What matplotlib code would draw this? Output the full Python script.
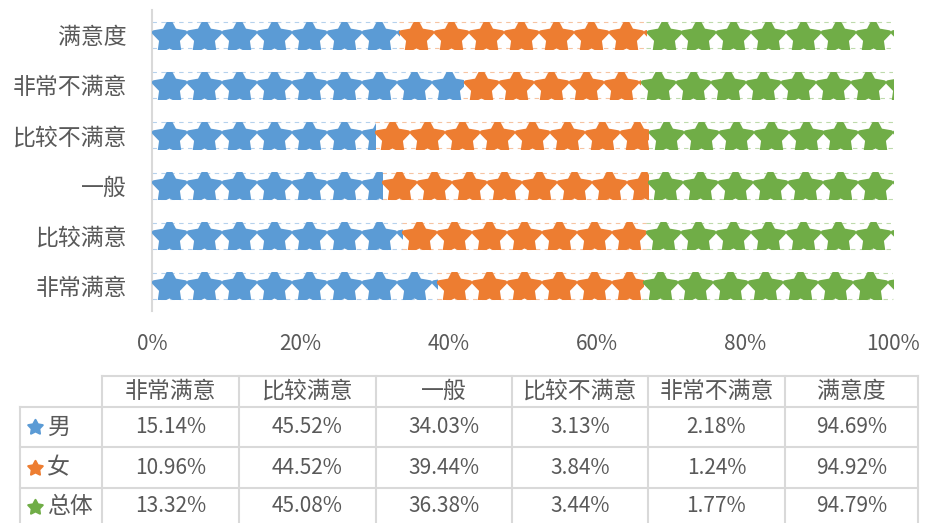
import matplotlib.pyplot as plt
import numpy as np
from matplotlib.path import Path
from matplotlib.lines import Line2D

plt.rcParams['font.family'] = ['Noto Sans CJK SC', 'DejaVu Sans']

# data
categories = ['非常满意', '比较满意', '一般', '比较不满意', '非常不满意', '满意度']
groups = ['男', '女', '总体']
male = [15.14, 45.52, 34.03, 3.13, 2.18, 94.69]
female = [10.96, 44.52, 39.44, 3.84, 1.24, 94.92]
total = [13.32, 45.08, 36.38, 3.44, 1.77, 94.79]
colors = ['#5B9BD5', '#ED7D31', '#70AD47']
grey = '#595959'

W, H = 925, 523
fig = plt.figure(figsize=(W / 100, H / 100), dpi=100)

# axes placement in pixels (left, top, right, bottom)
ax = fig.add_axes([152 / W, (H - 311) / H, (893 - 152) / W, (311 - 10) / H])

vals = np.array([male, female, total])
share = vals / vals.sum(axis=0)
ypos = np.arange(len(categories))
star = Path.unit_regular_star(5, 0.52)
step = 0.0472  # star tile width in axis units
bar_h = 0.54

left = np.zeros(len(categories))
for k in range(3):
    bars = ax.barh(ypos, share[k], left=left, height=bar_h, color='none', edgecolor='none')
    for i, p in enumerate(bars.patches):
        x0 = left[i]
        n = int(np.ceil(share[k][i] / step))
        xs = x0 + step * (np.arange(n) + 0.5)
        sc = ax.scatter(xs, np.full(n, ypos[i] - 0.03), marker=star, s=23.5 ** 2,
                        color=colors[k], edgecolors=colors[k], linewidths=3.2, zorder=3)
        sc.set_joinstyle('round')
        sc.set_clip_path(p)
        for yy in (ypos[i] - bar_h / 2 + 0.01, ypos[i] + bar_h / 2 - 0.01):
            ax.plot([x0, x0 + share[k][i]], [yy, yy], color=colors[k], lw=0.8,
                    dashes=(4, 4), alpha=0.45, zorder=2)
    left += share[k]

ax.set_xlim(0, 1)
ax.set_ylim(-0.5, len(categories) - 0.5)
ax.set_yticks(ypos)
ax.set_yticklabels(categories)
ax.set_xticks(np.linspace(0, 1, 6))
ax.set_xticklabels(['0%', '20%', '40%', '60%', '80%', '100%'])
ax.tick_params(axis='y', length=0, pad=18, labelsize=16.5, labelcolor=grey)
ax.tick_params(axis='x', length=0, pad=16, labelsize=15, labelcolor=grey)
for s in ['top', 'right', 'bottom']:
    ax.spines[s].set_visible(False)
ax.spines['left'].set_color('#D9D9D9')
ax.spines['left'].set_linewidth(1.5)

# data table below the chart
col_x = [20, 102, 239, 376, 512, 648, 785, 918]
row_y = [376, 407, 447, 488, 528]


def fx(x):
    return x / W


def fy(y):
    return 1 - y / H


line_kw = dict(color='#D9D9D9', lw=1.5)
# horizontal lines
fig.add_artist(Line2D([fx(col_x[1]), fx(col_x[-1])], [fy(row_y[0])] * 2, **line_kw))
for y in row_y[1:4]:
    fig.add_artist(Line2D([fx(col_x[0]), fx(col_x[-1])], [fy(y)] * 2, **line_kw))
# vertical lines
fig.add_artist(Line2D([fx(col_x[0])] * 2, [fy(row_y[1]), fy(row_y[-1])], **line_kw))
for x in col_x[1:]:
    fig.add_artist(Line2D([fx(x)] * 2, [fy(row_y[0]), fy(row_y[-1])], **line_kw))

for j, c in enumerate(categories):
    cx = (col_x[j + 1] + col_x[j + 2]) / 2
    fig.text(fx(cx), fy((row_y[0] + row_y[1]) / 2), c, ha='center', va='center',
             fontsize=16.5, color=grey)

for r in range(3):
    cy = (row_y[r + 1] + row_y[r + 2]) / 2
    if r == 2:
        cy = (row_y[3] + 523) / 2 + 1
    fig.add_artist(Line2D([fx(35)], [fy(cy)], marker=star, markersize=11,
                          color=colors[r], markeredgewidth=1.5, markeredgecolor=colors[r],
                          linestyle='none'))
    fig.text(fx(47), fy(cy), groups[r], ha='left', va='center', fontsize=16.5, color=grey)
    for j in range(len(categories)):
        cx = (col_x[j + 1] + col_x[j + 2]) / 2
        fig.text(fx(cx), fy(cy), f'{vals[r][j]:.2f}%', ha='center', va='center',
                 fontsize=15, color=grey)

fig.savefig('out.png', dpi=100)
